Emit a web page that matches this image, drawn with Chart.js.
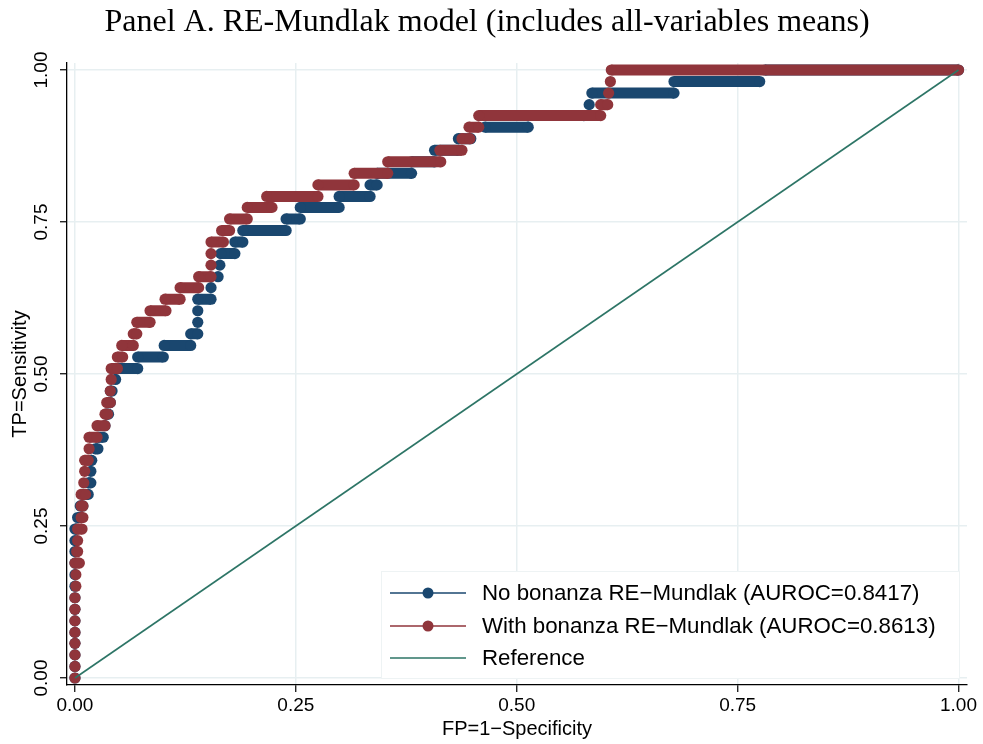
<!DOCTYPE html>
<html>
<head>
<meta charset="utf-8">
<script src="https://cdn.jsdelivr.net/npm/chart.js@4.4.1/dist/chart.umd.min.js"></script>
<style>
  body { margin: 0; background: #fff; }
  canvas { display: block; }
</style>
</head>
<body>
<canvas id="roc" width="983" height="744"></canvas>
<script>
/* ---------------------------------------------------
    data
----------------------------------------------------- */

// sensitivity levels, one for each step of the curves
const tprLevels = [0.000, 0.019, 0.038, 0.057, 0.075, 0.094, 0.113, 0.132, 0.151, 0.170,
  0.189, 0.208, 0.226, 0.245, 0.264, 0.283, 0.302, 0.321, 0.340, 0.358,
  0.377, 0.396, 0.415, 0.434, 0.453, 0.472, 0.491, 0.509, 0.528, 0.547,
  0.566, 0.585, 0.604, 0.623, 0.642, 0.660, 0.679, 0.698, 0.717, 0.736,
  0.755, 0.774, 0.792, 0.811, 0.830, 0.849, 0.868, 0.887, 0.906, 0.925,
  0.943, 0.962, 0.981, 1.000];

// 1-specificity where each step starts / ends
const noBonanzaFpStart = [0, 0, 0, 0, 0, 0, 0, 0, 0, 0,
  0, 0, 0, 0, 0.003, 0.006, 0.009, 0.015, 0.018, 0.018,
  0.023, 0.026, 0.034, 0.035, 0.040, 0.040, 0.046, 0.049, 0.071, 0.101,
  0.131, 0.139, 0.139, 0.139, 0.154, 0.162, 0.164, 0.165, 0.181, 0.190,
  0.239, 0.255, 0.299, 0.334, 0.342, 0.381, 0.407, 0.434, 0.464, 0.513,
  0.582, 0.585, 0.678, 0.781];
const noBonanzaFpEnd = [0, 0, 0, 0, 0, 0, 0, 0, 0, 0,
  0, 0, 0, 0.002, 0.007, 0.009, 0.015, 0.018, 0.018, 0.019,
  0.026, 0.032, 0.034, 0.038, 0.040, 0.042, 0.046, 0.071, 0.100, 0.131,
  0.139, 0.139, 0.139, 0.154, 0.154, 0.162, 0.164, 0.181, 0.190, 0.239,
  0.255, 0.299, 0.334, 0.342, 0.381, 0.407, 0.434, 0.448, 0.513, 0.576,
  0.582, 0.678, 0.775, 1.000];

const withBonanzaFpStart = [0, 0, 0, 0, 0, 0, 0, 0, 0.001, 0.001,
  0, 0.002, 0.003, 0.003, 0.007, 0.007, 0.007, 0.010, 0.011, 0.011,
  0.016, 0.016, 0.025, 0.034, 0.036, 0.040, 0.041, 0.041, 0.048, 0.053,
  0.066, 0.070, 0.085, 0.102, 0.119, 0.140, 0.154, 0.154, 0.154, 0.166,
  0.175, 0.195, 0.217, 0.275, 0.316, 0.354, 0.413, 0.438, 0.446, 0.457,
  0.595, 0.604, 0.606, 0.607];
const withBonanzaFpEnd = [0, 0, 0, 0, 0, 0, 0, 0, 0.001, 0.001,
  0.005, 0.003, 0.003, 0.008, 0.009, 0.009, 0.012, 0.010, 0.011, 0.015,
  0.016, 0.025, 0.034, 0.037, 0.040, 0.040, 0.041, 0.048, 0.054, 0.066,
  0.070, 0.085, 0.103, 0.119, 0.140, 0.154, 0.154, 0.154, 0.168, 0.175,
  0.195, 0.223, 0.275, 0.316, 0.354, 0.414, 0.438, 0.447, 0.457, 0.595,
  0.603, 0.604, 0.606, 1.000];

const referenceX = [0, 1];
const referenceY = [0, 1];

const tickValues = [0, 0.25, 0.5, 0.75, 1];

const seriesLabels = [
  "No bonanza RE\u2212Mundlak (AUROC=0.8417)",
  "With bonanza RE\u2212Mundlak (AUROC=0.8613)",
  "Reference",
];

const blue = "#1a476f";
const red = "#90353b";
const teal = "#2d7566";

/* ---------------------------------------------------
    build the step runs (a gap between every step)
----------------------------------------------------- */

function stepRuns(starts, ends) {
  let pts = [];
  for (let k = 0; k < tprLevels.length; k++) {
    pts.push({ x: starts[k], y: tprLevels[k] });
    if (ends[k] > starts[k]) pts.push({ x: ends[k], y: tprLevels[k] });
    pts.push({ x: NaN, y: NaN });
  }
  return pts;
}

/* ---------------------------------------------------
    title + legend drawn on top
----------------------------------------------------- */

const extras = {
  id: "extras",
  afterDraw(chart) {
    const ctx = chart.ctx;
    ctx.save();
    ctx.fillStyle = "#000";
    ctx.font = '32px "Liberation Serif"';
    ctx.textAlign = "center";
    ctx.textBaseline = "middle";
    ctx.fillText("Panel A. RE-Mundlak model (includes all-variables means)", 487, 23);

    // legend box
    ctx.fillStyle = "#fff";
    ctx.fillRect(381, 571, 579, 108);
    ctx.strokeStyle = "#eef3f4";
    ctx.lineWidth = 1;
    ctx.strokeRect(381.5, 571.5, 578, 107);

    const colors = [blue, red, teal];
    const rows = [593, 626, 658];
    ctx.font = '22.3px "Liberation Sans"';
    ctx.textAlign = "left";
    for (let i = 0; i < 3; i++) {
      ctx.strokeStyle = colors[i];
      ctx.lineWidth = 1.6;
      ctx.beginPath();
      ctx.moveTo(390, rows[i]);
      ctx.lineTo(466, rows[i]);
      ctx.stroke();
      if (i < 2) {
        ctx.fillStyle = colors[i];
        ctx.beginPath();
        ctx.arc(428, rows[i], 5.5, 0, Math.PI * 2);
        ctx.fill();
      }
      ctx.fillStyle = "#000";
      ctx.fillText(seriesLabels[i], 482, rows[i] + 1);
    }
    ctx.restore();
  },
};

/* ---------------------------------------------------
    chart
----------------------------------------------------- */

const gridColor = "#e7eff1";
const fmt = (v) => Number(v).toFixed(2);

new Chart(document.getElementById("roc"), {
  type: "scatter",
  data: {
    datasets: [
      {
        label: seriesLabels[2],
        data: referenceX.map((x, i) => ({ x: x, y: referenceY[i] })),
        showLine: true,
        borderColor: teal,
        borderWidth: 1.6,
        pointRadius: 0,
        order: 0,
      },
      {
        label: seriesLabels[1],
        data: stepRuns(withBonanzaFpStart, withBonanzaFpEnd),
        showLine: true,
        borderColor: red,
        backgroundColor: red,
        borderWidth: 11,
        pointRadius: 5.6,
        pointBorderWidth: 0,
        pointBackgroundColor: red,
        order: 1,
      },
      {
        label: seriesLabels[0],
        data: stepRuns(noBonanzaFpStart, noBonanzaFpEnd),
        showLine: true,
        borderColor: blue,
        backgroundColor: blue,
        borderWidth: 11,
        pointRadius: 5.6,
        pointBorderWidth: 0,
        pointBackgroundColor: blue,
        order: 2,
      },
    ],
  },
  options: {
    responsive: false,
    animation: false,
    devicePixelRatio: 1,
    layout: { padding: { top: 63, right: 16, left: 0, bottom: 0 } },
    plugins: {
      legend: { display: false },
      tooltip: { enabled: false },
    },
    scales: {
      x: {
        type: "linear",
        min: -0.009,
        max: 1.0096,
        afterBuildTicks: (axis) => { axis.ticks = tickValues.map((v) => ({ value: v })); },
        afterFit: (axis) => { axis.height = 59; },
        grid: { color: gridColor, lineWidth: 1.5, tickColor: "#000", tickLength: 7, tickWidth: 1.2 },
        border: { color: "#000", width: 1.3 },
        ticks: { callback: fmt, color: "#000", padding: 2, maxRotation: 0, font: { family: "Liberation Sans", size: 19 } },
        title: { display: true, text: "FP=1\u2212Specificity", color: "#000", padding: { top: 0, bottom: 3 }, font: { family: "Liberation Sans", size: 20 } },
      },
      y: {
        type: "linear",
        min: -0.0115,
        max: 1.0115,
        afterBuildTicks: (axis) => { axis.ticks = tickValues.map((v) => ({ value: v })); },
        afterFit: (axis) => { axis.width = 67; },
        grid: { color: gridColor, lineWidth: 1.5, tickColor: "#000", tickLength: 7, tickWidth: 1.2 },
        border: { color: "#000", width: 1.3 },
        ticks: { callback: fmt, color: "#000", padding: 0, minRotation: 90, maxRotation: 90, crossAlign: "center", font: { family: "Liberation Sans", size: 19 } },
        title: { display: true, text: "TP=Sensitivity", color: "#000", padding: { top: 8, bottom: 0 }, font: { family: "Liberation Sans", size: 20 } },
      },
    },
  },
  plugins: [extras],
});
</script>
</body>
</html>
